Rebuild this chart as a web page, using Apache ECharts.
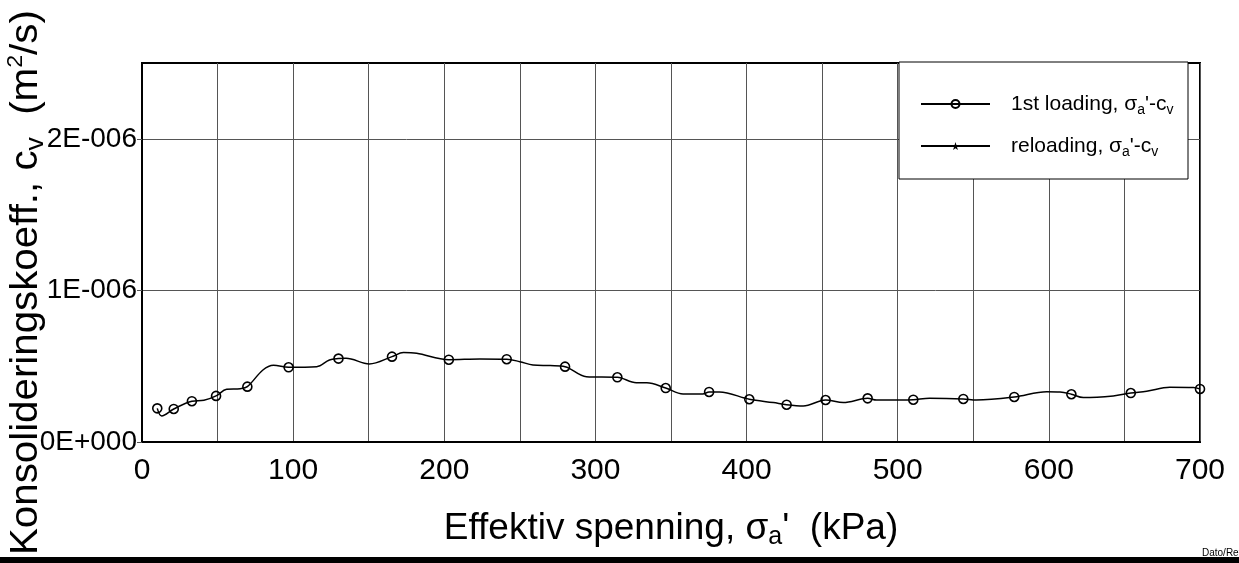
<!DOCTYPE html>
<html><head><meta charset="utf-8">
<script src="https://cdn.jsdelivr.net/npm/echarts@6/dist/echarts.min.js"></script>
<style>html,body{margin:0;padding:0;background:#fff}#c{width:1239px;height:563px}</style>
</head><body><div id="c"></div>
<script>
// Effective stress (kPa)
const stress = [10.1,13,21,33,41,49,56,65,69.7,80,87,97,115.6,124,130,135,150.4,165.4,173,181.7,203,223.6,241.3,250,258.7,270,279.9,294,314.5,327,334,346.5,358,371,375.2,382,401.8,417.7,426.5,437.5,452.3,464,480.1,486,501.5,510.3,521,543.4,552,577.1,598.6,607.4,614.9,622.8,642.6,654.2,664.7,680,695.6,700];
// Consolidation coefficient cv, in units of 1E-006 m2/s
const cvE6 = [0.222,0.172,0.218,0.269,0.275,0.304,0.348,0.352,0.365,0.475,0.506,0.493,0.497,0.541,0.55,0.552,0.515,0.563,0.59,0.585,0.543,0.548,0.546,0.53,0.508,0.504,0.497,0.431,0.427,0.391,0.391,0.356,0.317,0.317,0.33,0.33,0.282,0.26,0.246,0.238,0.277,0.26,0.288,0.277,0.277,0.279,0.288,0.284,0.277,0.297,0.332,0.33,0.315,0.293,0.304,0.323,0.335,0.361,0.359,0.35];
// 1 = measured point drawn with a circle marker
const markerFlag = [1,0,1,1,0,1,0,0,1,0,0,1,0,0,1,0,0,1,0,0,1,0,1,0,0,0,1,0,1,0,0,1,0,0,1,0,1,0,1,0,1,0,1,0,0,1,0,1,0,1,0,0,1,0,0,1,0,0,0,1];
// Reloading series (no data in this plot)
const reloadStress = [];
const reloadCvE6 = [];
// Tick labels
const xTicks = [0,100,200,300,400,500,600,700];
const yTicks = [0,1,2];
const yTickLabels = ['0E+000','1E-006','2E-006'];

const FONT = 'Liberation Sans, Arial, sans-serif';
const chart = echarts.init(document.getElementById('c'), null, {renderer:'canvas'});

const loadData = stress.map((x,i)=> markerFlag[i] ? [x, cvE6[i]] : {value:[x, cvE6[i]], symbol:'none'});
const reloadData = reloadStress.map((x,i)=>[x, reloadCvE6[i]]);
const starPath = 'path://M50,0 L61,35 L98,35 L68,57 L79,91 L50,70 L21,91 L32,57 L2,35 L39,35 Z';

chart.setOption({
  animation:false,
  backgroundColor:'#fff',
  grid:{left:142, right:39, top:63, bottom:121, show:true, borderColor:'#000', borderWidth:2, outerBoundsMode:'none'},
  xAxis:{
    type:'value', min:0, max:700, interval:50,
    axisLine:{show:true, lineStyle:{color:'#000', width:2}},
    axisTick:{show:false},
    axisLabel:{customValues:xTicks, fontSize:30, color:'#000', fontFamily:FONT, margin:14},
    splitLine:{show:true, lineStyle:{color:'#555', width:1}}
  },
  yAxis:{
    type:'value', min:0, max:2.5, interval:0.5,
    axisLine:{show:true, lineStyle:{color:'#000', width:2}},
    axisTick:{show:true, customValues:yTicks, length:5, lineStyle:{color:'#555', width:1}},
    axisLabel:{customValues:yTicks, fontSize:28, color:'#000', fontFamily:FONT, margin:5,
      formatter:(v)=> yTickLabels[yTicks.indexOf(Math.round(v))] || ''},
    splitLine:{show:true, lineStyle:{color:'#555', width:1}}
  },
  legend:{
    orient:'vertical', left:920, top:91, padding:0, itemGap:16,
    itemWidth:69, itemHeight:10, z:20,
    textStyle:{fontSize:21, color:'#000', fontFamily:FONT, lineHeight:26, padding:[0,0,0,16],
      rich:{sub:{fontSize:14, fontFamily:FONT, color:'#000', lineHeight:10, verticalAlign:'bottom'}}},
    formatter:(name)=> name==='1st loading' ? "1st loading, σ{sub|a}'-c{sub|v}" : "reloading, σ{sub|a}'-c{sub|v}",
    data:['1st loading','reloading']
  },
  series:[
    {name:'1st loading', type:'line', data:loadData, smooth:0.35,
     symbol:'circle', symbolSize:9, showSymbol:true,
     lineStyle:{color:'#000', width:1.5},
     itemStyle:{color:'rgba(0,0,0,0)', borderColor:'#000', borderWidth:1.6}, z:3},
    {name:'reloading', type:'line', data:reloadData,
     symbol:starPath, symbolSize:9,
     lineStyle:{color:'#000', width:1.5},
     itemStyle:{color:'#000'}, z:3}
  ],
  graphic:[
    {type:'rect', z:10, shape:{x:899, y:62, width:289, height:117}, style:{fill:'#fff', stroke:'#000', lineWidth:1}},
    {type:'text', z:10, x:671, y:529, style:{
      text:"Effektiv spenning, σ{sub|a}'  (kPa)", font:'37px '+FONT, fill:'#000', align:'center', verticalAlign:'middle', lineHeight:42,
      rich:{sub:{fontSize:25, fontFamily:FONT, fill:'#000', lineHeight:14, verticalAlign:'bottom'}}}},
    {type:'text', z:10, x:27, y:555, rotation:Math.PI/2, scaleX:1.06, style:{
      text:"Konsolideringskoeff., c{sub|v}  (m{sup|2}/s)", font:'38px '+FONT, fill:'#000', align:'left', verticalAlign:'middle', lineHeight:44,
      rich:{sub:{fontSize:25, fontFamily:FONT, fill:'#000', lineHeight:16, verticalAlign:'bottom'},
            sup:{fontSize:22, fontFamily:FONT, fill:'#000', lineHeight:22, verticalAlign:'top'}}}},
    {type:'text', z:10, x:1202, y:553, style:{text:'Dato/Rev.', font:'10px '+FONT, fill:'#000', align:'left', verticalAlign:'middle'}},
    {type:'rect', z:10, shape:{x:0, y:557, width:1239, height:6}, style:{fill:'#000'}}
  ]
});
</script></body></html>
